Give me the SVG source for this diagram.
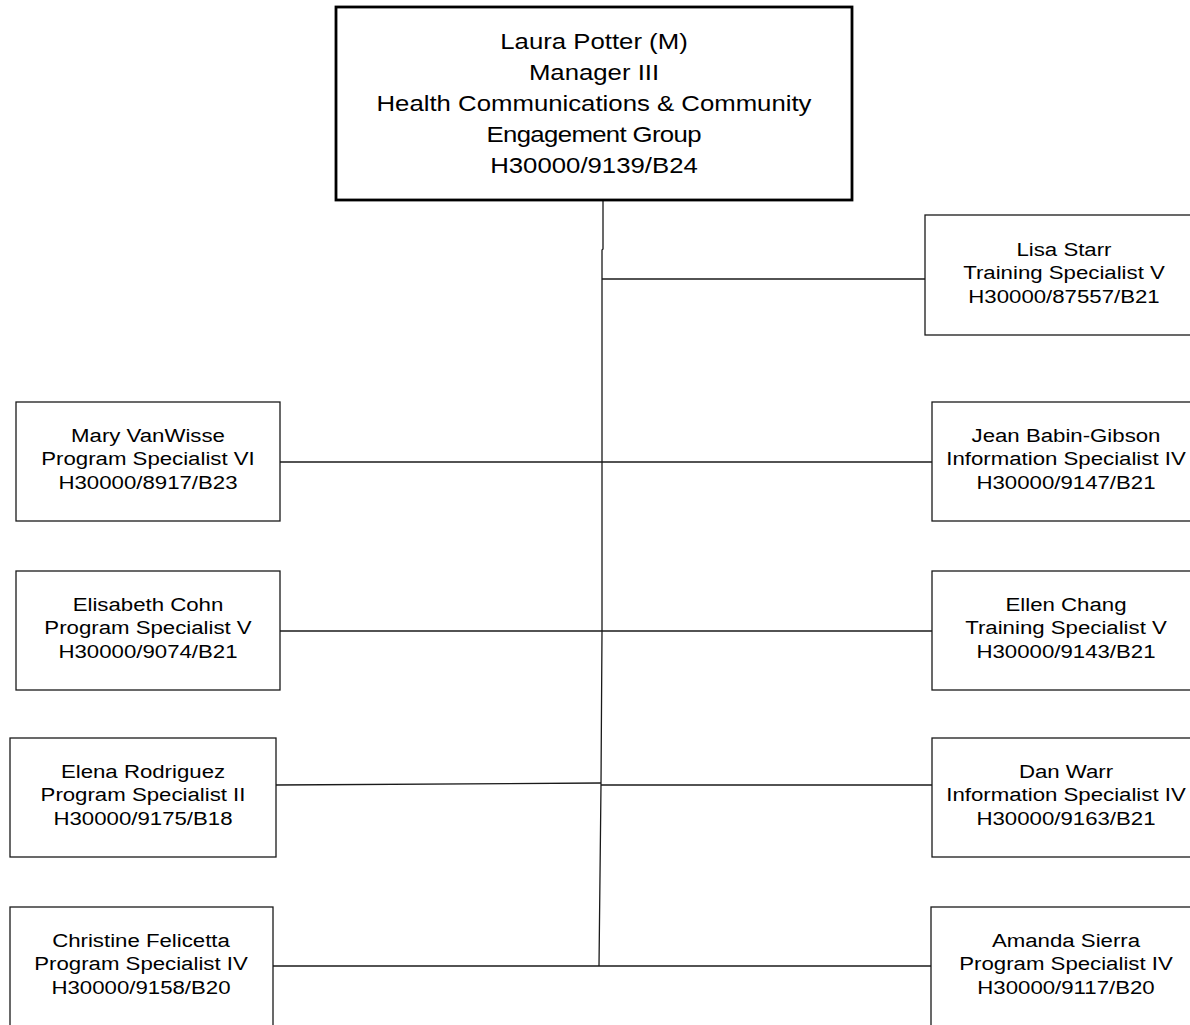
<svg xmlns="http://www.w3.org/2000/svg" width="1190" height="1025" viewBox="0 0 1190 1025">
<style>
.bx{fill:#fff;stroke:#1a1a1a;stroke-width:1.3}
.top{fill:#fff;stroke:#000;stroke-width:2.8}
.t{font-family:"Liberation Sans",Arial,sans-serif;font-size:19px;fill:#000;text-anchor:middle}
.tt{font-family:"Liberation Sans",Arial,sans-serif;font-size:23px;fill:#000;text-anchor:middle}
.c{fill:none;stroke:#1a1a1a;stroke-width:1.3}
</style>
<rect width="1190" height="1025" fill="#fff"/>
<g id="connectors">
<polyline class="c" points="603,200 603,249 602,250 602,632 601,785 599,966"/>
<path class="c" d="M602 279H925"/>
<path class="c" d="M280 462H932"/>
<path class="c" d="M280 631H932"/>
<path class="c" d="M276 785L601 783"/>
<path class="c" d="M601 785H932"/>
<path class="c" d="M273 966H599"/>
<path class="c" d="M599 966H931"/>
</g>
<g id="laura">
<rect class="top" x="336" y="7" width="516" height="193"/>
<text class="tt" transform="translate(594 0) scale(1.12 1)"><tspan x="0" y="49">Laura Potter (M)</tspan><tspan x="0" y="80">Manager III</tspan><tspan x="0" y="111.5">Health Communications &amp; Community</tspan></text>
<text class="tt" transform="translate(594 0) scale(1.12 1)" x="0" y="142" textLength="192" lengthAdjust="spacing">Engagement Group</text>
<text class="tt" transform="translate(594 0) scale(1.12 1)" x="0" y="173">H30000/9139/B24</text>
</g>
<g id="lisa">
<rect class="bx" x="925" y="215" width="278" height="120"/>
<text class="t" transform="translate(1064 0) scale(1.17 1)"><tspan x="0" y="256">Lisa Starr</tspan><tspan x="0" y="279.5">Training Specialist V</tspan><tspan x="0" y="303">H30000/87557/B21</tspan></text>
</g>
<g id="mary">
<rect class="bx" x="16" y="402" width="264" height="119"/>
<text class="t" transform="translate(148 0) scale(1.17 1)"><tspan x="0" y="442">Mary VanWisse</tspan><tspan x="0" y="465.5">Program Specialist VI</tspan><tspan x="0" y="489">H30000/8917/B23</tspan></text>
</g>
<g id="jean">
<rect class="bx" x="932" y="402" width="270" height="119"/>
<text class="t" transform="translate(1066 0) scale(1.17 1)"><tspan x="0" y="442">Jean Babin-Gibson</tspan><tspan x="0" y="465.5">Information Specialist IV</tspan><tspan x="0" y="489">H30000/9147/B21</tspan></text>
</g>
<g id="elisabeth">
<rect class="bx" x="16" y="571" width="264" height="119"/>
<text class="t" transform="translate(148 0) scale(1.17 1)"><tspan x="0" y="611">Elisabeth Cohn</tspan><tspan x="0" y="634.5">Program Specialist V</tspan><tspan x="0" y="658">H30000/9074/B21</tspan></text>
</g>
<g id="ellen">
<rect class="bx" x="932" y="571" width="270" height="119"/>
<text class="t" transform="translate(1066 0) scale(1.17 1)"><tspan x="0" y="611">Ellen Chang</tspan><tspan x="0" y="634.5">Training Specialist V</tspan><tspan x="0" y="658">H30000/9143/B21</tspan></text>
</g>
<g id="elena">
<rect class="bx" x="10" y="738" width="266" height="119"/>
<text class="t" transform="translate(143 0) scale(1.17 1)"><tspan x="0" y="778">Elena Rodriguez</tspan><tspan x="0" y="801.5">Program Specialist II</tspan><tspan x="0" y="825">H30000/9175/B18</tspan></text>
</g>
<g id="dan">
<rect class="bx" x="932" y="738" width="270" height="119"/>
<text class="t" transform="translate(1066 0) scale(1.17 1)"><tspan x="0" y="778">Dan Warr</tspan><tspan x="0" y="801.5">Information Specialist IV</tspan><tspan x="0" y="825">H30000/9163/B21</tspan></text>
</g>
<g id="christine">
<rect class="bx" x="10" y="907" width="263" height="130"/>
<text class="t" transform="translate(141 0) scale(1.17 1)"><tspan x="0" y="947">Christine Felicetta</tspan><tspan x="0" y="970.5">Program Specialist IV</tspan><tspan x="0" y="994">H30000/9158/B20</tspan></text>
</g>
<g id="amanda">
<rect class="bx" x="931" y="907" width="271" height="130"/>
<text class="t" transform="translate(1066 0) scale(1.17 1)"><tspan x="0" y="947">Amanda Sierra</tspan><tspan x="0" y="970.5">Program Specialist IV</tspan><tspan x="0" y="994">H30000/9117/B20</tspan></text>
</g>
</svg>
